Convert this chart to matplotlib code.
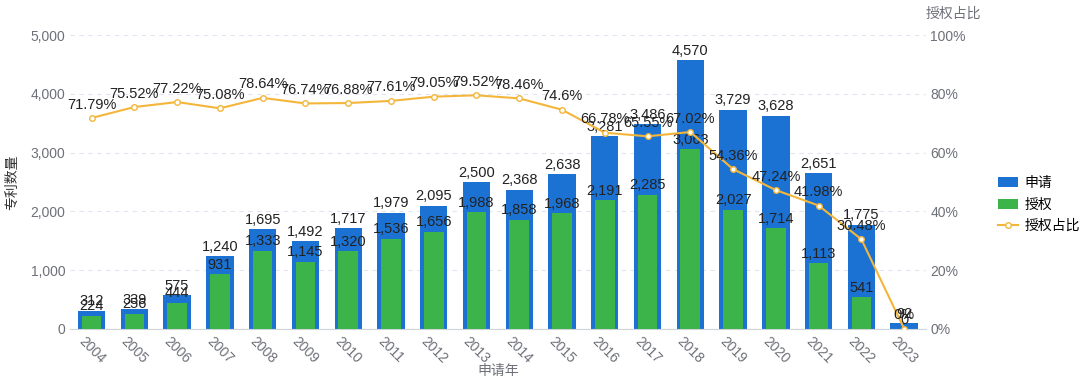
import numpy as np
import matplotlib.pyplot as plt

plt.rcParams['font.family'] = ['Liberation Sans', 'Noto Sans CJK SC', 'DejaVu Sans']

years = [str(y) for y in range(2004, 2024)]
applied = [312, 339, 575, 1240, 1695, 1492, 1717, 1979, 2095, 2500,
           2368, 2638, 3281, 3486, 4570, 3729, 3628, 2651, 1775, 92]
granted = [224, 256, 444, 931, 1333, 1145, 1320, 1536, 1656, 1988,
           1858, 1968, 2191, 2285, 3063, 2027, 1714, 1113, 541, 0]
ratio = [71.79, 75.52, 77.22, 75.08, 78.64, 76.74, 76.88, 77.61, 79.05, 79.52,
         78.46, 74.6, 66.78, 65.55, 67.02, 54.36, 47.24, 41.98, 30.48, 0]

blue = '#1c72d3'
green = '#3cb44a'
gold = '#f4b63a'
tickc = '#6e7079'
textc = '#222222'

fig = plt.figure(figsize=(10.8, 3.86), dpi=100)
ax = fig.add_axes([0.065, 0.148, 0.792, 0.761])
x = np.arange(len(years))

b1 = ax.bar(x, applied, width=0.64, color=blue, label='申请', zorder=2)
b2 = ax.bar(x, granted, width=0.46, color=green, label='授权', zorder=3)

for i in range(len(x)):
    ax.text(x[i], applied[i] + 40, f'{applied[i]:,}', ha='center', va='bottom',
            fontsize=10.5, color=textc, zorder=5)
    ax.text(x[i], granted[i] + 40, f'{granted[i]:,}', ha='center', va='bottom',
            fontsize=10.5, color=textc, zorder=5)

ax.set_xlim(-0.5, len(years) - 0.5)
ax.set_ylim(0, 5000)
ax.set_yticks(range(0, 5001, 1000))
ax.set_yticklabels([f'{v:,}' for v in range(0, 5001, 1000)])
ax.grid(axis='y', color='#e0e6f1', linestyle=(0, (4, 4)), linewidth=0.8, zorder=0)
ax.set_xticks(x)
ax.set_xticklabels(years, rotation=-45, ha='center', va='top')
for s in ['left', 'right', 'top']:
    ax.spines[s].set_visible(False)
ax.spines['bottom'].set_color('#d0d4dc')
ax.tick_params(axis='both', length=0, colors=tickc, labelsize=10)
ax.tick_params(axis='x', pad=4)
ax.set_xlabel('申请年', color=tickc, fontsize=10, labelpad=-2)
ax.set_ylabel('专利数量', color='#333333', fontsize=10, labelpad=8)

ax2 = ax.twinx()
ln, = ax2.plot(x, ratio, color=gold, linewidth=1.5, marker='o', markersize=4,
               markerfacecolor='white', markeredgecolor=gold, label='授权占比', zorder=6)
for i in range(len(x)):
    ax2.text(x[i], ratio[i] + 2.2, f'{ratio[i]:g}%', ha='center', va='bottom',
             fontsize=10.5, color=textc, zorder=7)
ax2.set_ylim(0, 100)
ax2.set_yticks(range(0, 101, 20))
ax2.set_yticklabels([f'{v}%' for v in range(0, 101, 20)])
for s in ['left', 'right', 'top', 'bottom']:
    ax2.spines[s].set_visible(False)
ax2.tick_params(axis='y', length=0, colors=tickc, labelsize=10)
fig.text(0.857, 0.965, '授权占比', color=tickc, fontsize=10, ha='left', va='center')

fig.legend(handles=[b1, b2, ln], loc='center left', bbox_to_anchor=(0.919, 0.47),
           frameon=False, fontsize=10, handlelength=1.4, handletextpad=0.5,
           labelspacing=0.55, borderaxespad=0)

fig.savefig('out.png', dpi=100)
